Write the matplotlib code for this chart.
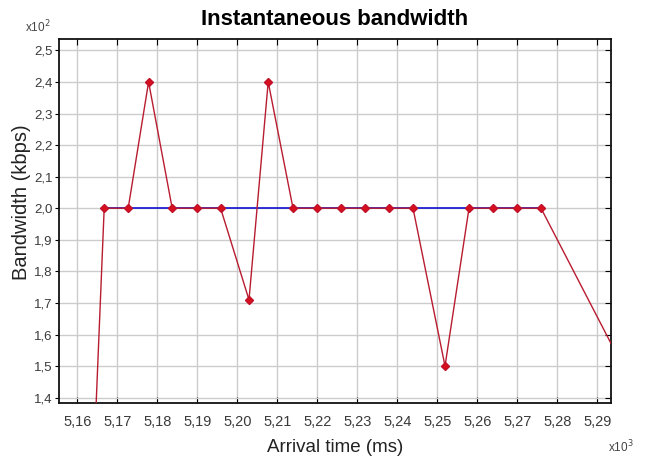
import matplotlib
matplotlib.use("Agg")
import matplotlib.pyplot as plt
import numpy as np

# arrival time (ms) and measured bandwidth (kbps)
arrival_ms = [5160.7, 5166.7, 5172.7, 5177.8, 5183.7, 5189.8, 5195.8, 5202.9,
              5207.7, 5213.9, 5219.9, 5225.8, 5231.8, 5237.9, 5243.9, 5251.9,
              5257.9, 5263.9, 5269.8, 5275.9, 5300.0]
bandwidth_kbps = [15, 200, 200, 240, 200, 200, 200, 171, 240, 200, 200,
                  200, 200, 200, 200, 150, 200, 200, 200, 200, 141]

# nominal rate (blue line)
nominal_ms = [5166.7, 5275.9]
nominal_kbps = [200, 200]

x_ticks = [5.16, 5.17, 5.18, 5.19, 5.20, 5.21, 5.22, 5.23, 5.24, 5.25, 5.26, 5.27, 5.28, 5.29]
y_ticks = [1.4, 1.5, 1.6, 1.7, 1.8, 1.9, 2.0, 2.1, 2.2, 2.3, 2.4, 2.5]

fam = ['Liberation Sans', 'DejaVu Sans']

x = np.array(arrival_ms) / 1000
y = np.array(bandwidth_kbps) / 100

fig = plt.figure(figsize=(6.51, 4.68), dpi=100)
ax = fig.add_axes([0.0906, 0.1395, 0.848, 0.7765])

ax.plot(np.array(nominal_ms) / 1000, np.array(nominal_kbps) / 100,
        color='#1010d0', lw=1.2, zorder=2)
ax.plot(x, y, color='#b81c30', lw=1.0, marker='D', ms=4.5,
        mfc='#d8101e', mec='#c0102a', zorder=3)

ax.set_xlim(5.1554, 5.2934)
ax.set_ylim(1.384, 2.535)
ax.set_xticks(x_ticks)
ax.set_yticks(y_ticks)
ax.set_xticklabels([f"{v:.2f}".replace('.', ',') for v in x_ticks],
                   family=fam, fontsize=10.5, color='#3a3a3a')
ax.set_yticklabels([f"{v:.1f}".replace('.', ',') for v in y_ticks],
                   family=fam, fontsize=9.5, color='#3a3a3a')

ax.grid(True, color='#cccccc', lw=1.0)
ax.set_axisbelow(True)
for s in ax.spines.values():
    s.set_linewidth(1.3)
    s.set_color('#111111')

ax.tick_params(axis='x', direction='in', length=4, top=True, pad=9)
ax.tick_params(axis='y', direction='out', length=3, pad=1.5)
ax.tick_params(axis='y', which='major', right=True)
for t in ax.yaxis.get_ticklines()[1::2]:
    t.set_marker(0)  # right ticks point inward
    t.set_markersize(4)

ax.set_title('Instantaneous bandwidth', family=fam, fontsize=16,
             fontweight='bold', pad=10)
ax.set_xlabel('Arrival time (ms)', family=fam, fontsize=13.5,
              color='#222222', labelpad=7)
ax.set_ylabel('Bandwidth (kbps)', family=fam, fontsize=14.5,
              color='#222222')
ax.yaxis.set_label_coords(-0.05, 0.553)

fig.text(25 / 651, 1 - 32 / 468, r'x10$^2$', family=fam, fontsize=8.5,
         color='#444444')
fig.text(608 / 651, 1 - 452 / 468, r'x10$^3$', family=fam, fontsize=8.5,
         color='#444444')

fig.savefig('out.png', dpi=100)
